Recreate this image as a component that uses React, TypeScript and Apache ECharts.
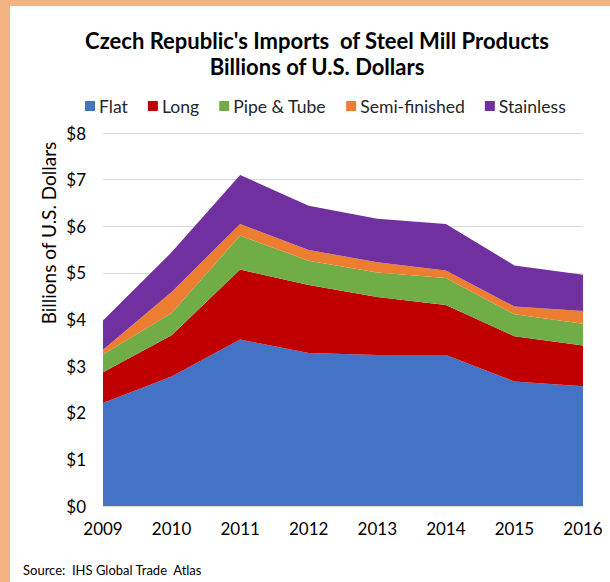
import React, { useEffect, useRef } from "react";
import * as echarts from "echarts";

const years = ["2009", "2010", "2011", "2012", "2013", "2014", "2015", "2016"];
const flat = [2.21, 2.78, 3.57, 3.28, 3.24, 3.24, 2.67, 2.57];
const long = [0.66, 0.88, 1.5, 1.46, 1.24, 1.07, 0.97, 0.87];
const pipeTube = [0.38, 0.48, 0.73, 0.52, 0.53, 0.58, 0.47, 0.47];
const semiFinished = [0.1, 0.45, 0.25, 0.23, 0.22, 0.16, 0.17, 0.27];
const stainless = [0.63, 0.85, 1.05, 0.95, 0.93, 1.0, 0.88, 0.78];

const seriesNames = ["Flat", "Long", "Pipe & Tube", "Semi-finished", "Stainless"];
const seriesData = [flat, long, pipeTube, semiFinished, stainless];
const colors = ["#4472C4", "#C00000", "#70AD47", "#ED7D31", "#7030A0"];

const FONT = "Lato";

export default function App() {
  const ref = useRef<HTMLDivElement>(null);
  useEffect(() => {
    if (!ref.current) return;
    const chart = echarts.init(ref.current, undefined, { renderer: "svg" });
    chart.setOption({
      animation: false,
      backgroundColor: "#FFFFFF",
      color: colors,
      title: {
        text: "Czech Republic's Imports  of Steel Mill Products\nBillions of U.S. Dollars",
        left: 317,
        top: 27,
        padding: 0,
        textAlign: "center",
        textStyle: {
          fontFamily: FONT,
          fontWeight: "bold",
          fontSize: 22,
          lineHeight: 26,
          color: "#000000",
        },
      },
      legend: {
        data: seriesNames,
        left: 85,
        top: 97,
        padding: 0,
        icon: "rect",
        itemWidth: 10,
        itemHeight: 10,
        itemGap: 20,
        textStyle: { fontFamily: FONT, fontSize: 17.6, color: "#262626", padding: [0, 0, 0, -1] },
      },
      grid: { left: 103, right: 27, top: 133, bottom: 76, containLabel: false },
      xAxis: {
        type: "category",
        data: years,
        boundaryGap: false,
        axisLine: { lineStyle: { color: "#D9D9D9" } },
        axisTick: { show: false },
        axisLabel: { fontFamily: FONT, fontSize: 17, color: "#000000", margin: 14 },
      },
      yAxis: {
        type: "value",
        min: 0,
        max: 8,
        interval: 1,
        axisLine: { show: false },
        axisTick: { show: false },
        splitLine: { lineStyle: { color: "#D9D9D9", width: 1 } },
        axisLabel: {
          fontFamily: FONT,
          fontSize: 17,
          color: "#000000",
          margin: 17,
          formatter: (v: number) => "$" + v,
        },
      },
      series: seriesNames.map((name, i) => ({
        name,
        type: "line",
        stack: "total",
        data: seriesData[i],
        showSymbol: false,
        symbol: "none",
        lineStyle: { width: 0 },
        areaStyle: { color: colors[i], opacity: 1 },
        itemStyle: { color: colors[i] },
      })),
      graphic: [
        { type: "rect", shape: { x: 0, y: 0, width: 610, height: 6 }, style: { fill: "#F4B183" }, silent: true },
        { type: "rect", shape: { x: 0, y: 0, width: 10, height: 582 }, style: { fill: "#F4B183" }, silent: true },
        {
          type: "text",
          x: 48,
          y: 233,
          rotation: Math.PI / 2,
          style: {
            text: "Billions of U.S. Dollars",
            fontFamily: FONT,
            fontSize: 19,
            fill: "#000000",
            textAlign: "center",
            textVerticalAlign: "middle",
          },
        },
        {
          type: "text",
          x: 23,
          y: 570,
          style: {
            text: "Source:  IHS Global Trade  Atlas",
            fontFamily: FONT,
            fontSize: 13,
            fill: "#000000",
            textAlign: "left",
            textVerticalAlign: "middle",
          },
        },
      ],
    });
    return () => chart.dispose();
  }, []);
  return (
    <div
      ref={ref}
      style={{ position: "fixed", left: 0, top: 0, width: 610, height: 582 }}
    />
  );
}
